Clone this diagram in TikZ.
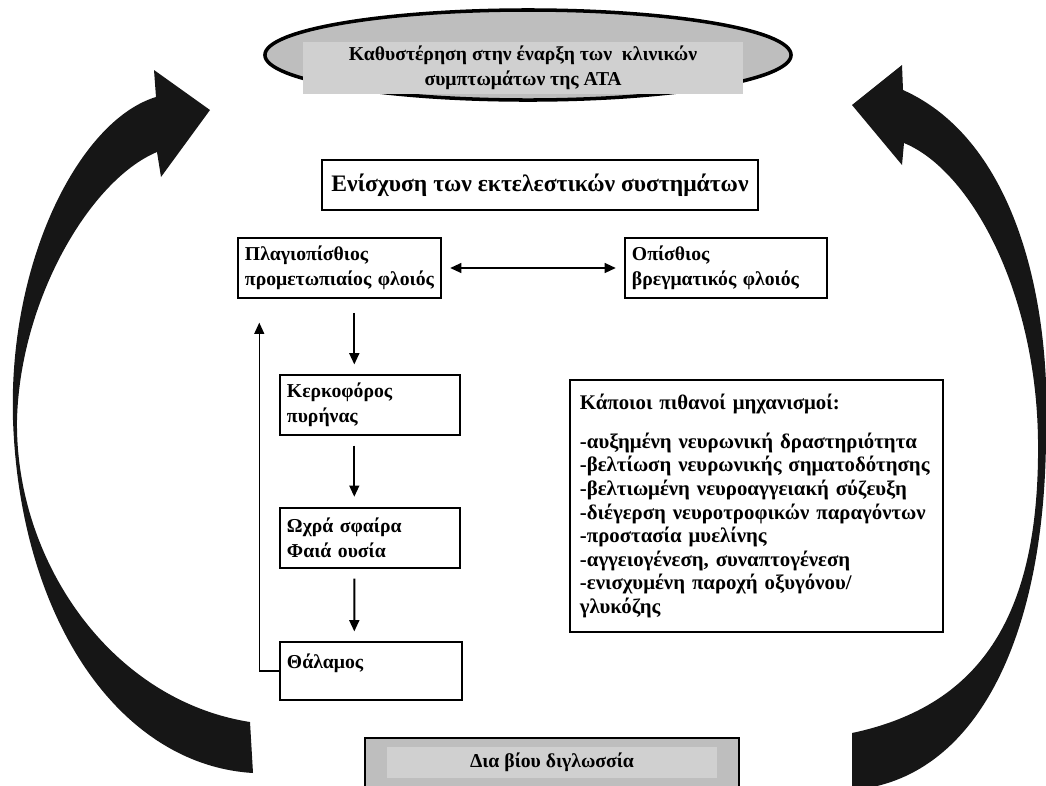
\documentclass[tikz,border=0pt]{standalone}
\usepackage{fontspec}
\setmainfont{Liberation Serif}
\usetikzlibrary{arrows.meta}
\definecolor{ovalgray}{RGB}{190,190,190}
\definecolor{textgray}{RGB}{208,208,208}
\definecolor{arrowblack}{RGB}{22,22,22}

\begin{document}
\begin{tikzpicture}[x=0.025cm,y=-0.025cm,
    txt/.style={font=\bfseries\fontsize{14}{17.5}\selectfont},
    box/.style={txt,draw,line width=1pt,align=left,inner xsep=0.175cm,minimum height=1.5cm},
    flow/.style={line width=1.4pt,-{Triangle[length=8pt,width=7pt]}},
    bigarrow/.style={fill=arrowblack}]
\clip (0,0) rectangle (1046,785);

\draw[line width=2.5pt,fill=ovalgray] (528,55) ellipse [x radius=6.575cm,y radius=1.125cm];
\node[txt,fill=textgray,align=center,minimum width=11cm,minimum height=1.25cm] (delay) at (523,68)
    {Καθυστέρηση στην έναρξη των~ κλινικών\\συμπτωμάτων της ΑΤΑ};

\node[draw,line width=2pt,font=\bfseries\fontsize{16.8}{20}\selectfont,minimum width=10.9cm,minimum height=1.25cm] (exec) at (540,185)
    {Ενίσχυση των εκτελεστικών συστημάτων};

\node[box,text width=4.725cm,minimum width=5.075cm] (dlpfc) at (339.5,268) {Πλαγιοπίσθιος\\προμετωπιαίος φλοιός};
\node[box,text width=4.70cm,minimum width=5.05cm] (ppc) at (726,268) {Οπίσθιος\\βρεγματικός φλοιός};
\node[box,text width=4.15cm,minimum width=4.5cm] (caudate) at (370,405) {Κερκοφόρος\\πυρήνας};
\node[box,text width=4.15cm,minimum width=4.5cm] (pallidus) at (370,538) {Ωχρά σφαίρα\\Φαιά ουσία};
\node[box,text width=4.2cm,minimum width=4.55cm,minimum height=1.45cm,text depth=14pt] (thalamus) at (371,671) {Θάλαμος};

\node[box,font=\bfseries\fontsize{14.8}{16.8}\selectfont,line width=1.5pt,inner xsep=0.25cm,text width=8.825cm,minimum width=9.325cm,minimum height=6.3cm] (mech) at (756.5,506)
    {Κάποιοι πιθανοί μηχανισμοί:\\[10.8pt]
     -αυξημένη νευρωνική δραστηριότητα\\
     -βελτίωση νευρωνικής σηματοδότησης\\
     -βελτιωμένη νευροαγγειακή σύζευξη\\
     -διέγερση νευροτροφικών παραγόντων\\
     -προστασία μυελίνης\\
     -αγγειογένεση, συναπτογένεση\\
     -ενισχυμένη παροχή οξυγόνου/\\
     γλυκόζης};

\draw[line width=2pt,fill=ovalgray] (365,738) rectangle (739,800);
\node[txt,fill=textgray,minimum width=8.25cm,minimum height=0.775cm] (bilingual) at (552,762.5) {Δια βίου διγλωσσία};

\draw[flow,{Triangle[length=8pt,width=7pt]}-{Triangle[length=8pt,width=7pt]},shorten <=6pt,shorten >=6pt] (dlpfc.east) -- (ppc.west);
\draw[flow,shorten <=10pt,shorten >=7pt] ([xshift=1.875cm]caudate.north west |- dlpfc.south) -- ([xshift=1.875cm]caudate.north west);
\draw[flow,shorten <=7pt,shorten >=7.5pt] ([xshift=1.875cm]caudate.south west) -- ([xshift=1.875cm]pallidus.north west);
\draw[flow,shorten <=7pt,shorten >=7pt] ([xshift=1.875cm]pallidus.south west) -- ([xshift=1.875cm]thalamus.north west);
\draw[flow,line width=1pt,shorten >=17pt] (thalamus.west) -| ([xshift=0.55cm]dlpfc.south west);

\fill[bigarrow] (253,773) .. controls (120,765) and (20,620) .. (13,420) .. controls (8,260) and (80,120) .. (156,97)
    -- (154,70) -- (210,110) -- (161,177) -- (157,152)
    .. controls (90,180) and (20,300) .. (17,420) .. controls (15,560) and (110,700) .. (250,722) -- cycle;
\fill[bigarrow] (852,790) .. controls (975,780) and (1044,640) .. (1046,440) .. controls (1052,300) and (1015,140) .. (903,90)
    -- (902,65) -- (852,105) -- (902,165) -- (904,143)
    .. controls (970,170) and (1036,290) .. (1038,440) .. controls (1040,610) and (985,705) .. (852,733) -- cycle;
\end{tikzpicture}
\end{document}
